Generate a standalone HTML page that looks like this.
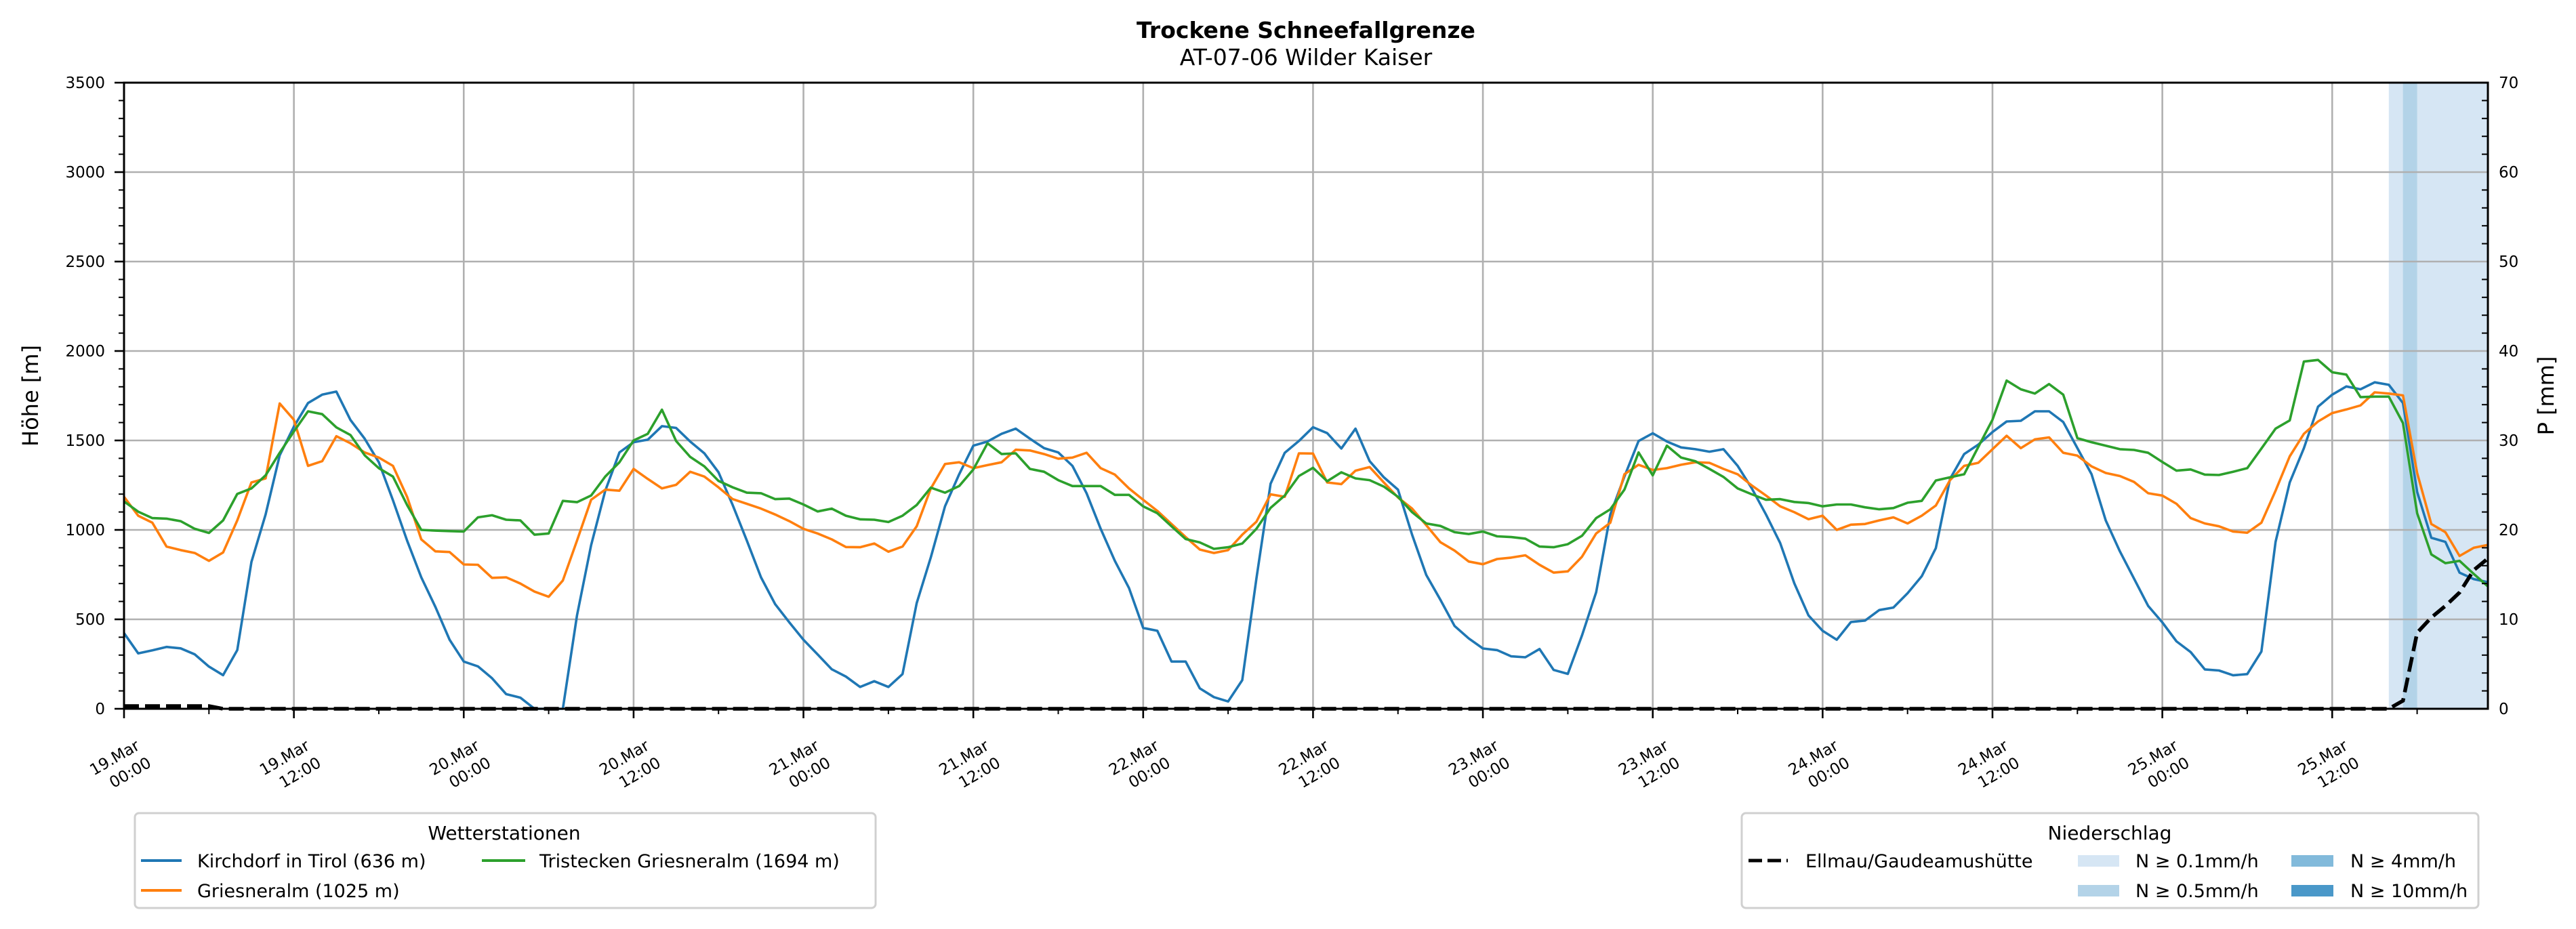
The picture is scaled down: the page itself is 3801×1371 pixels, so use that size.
<!DOCTYPE html>
<html><head><meta charset="utf-8">
<style>
html,body{margin:0;padding:0;background:#fff;}
svg{display:block;font-family:"DejaVu Sans","Liberation Sans",sans-serif;}
</style></head>
<body>
<svg id="chart" xmlns="http://www.w3.org/2000/svg" width="3801" height="1371" viewBox="0 0 3801 1371">
  <rect x="0" y="0" width="3801" height="1371" fill="#fff"/>
  <g id="bands"></g>
  <g id="grid"></g>
  <g id="series"></g>
  <g id="axes"></g>
  <text x="1927" y="56" text-anchor="middle" font-size="33" font-weight="bold">Trockene Schneefallgrenze</text>
  <text x="1927" y="96" text-anchor="middle" font-size="33">AT-07-06 Wilder Kaiser</text>
  <text transform="translate(56,584) rotate(-90)" text-anchor="middle" font-size="32">Höhe [m]</text>
  <text transform="translate(3768,584) rotate(-90)" text-anchor="middle" font-size="32">P [mm]</text>

  <g>
    <rect x="199" y="1200" width="1093" height="140" rx="6" fill="#fff" stroke="#d0d0d0" stroke-width="3"/>
    <text x="744" y="1239" text-anchor="middle" font-size="28">Wetterstationen</text>
    <line x1="208" y1="1270" x2="268" y2="1270" stroke="#1f77b4" stroke-width="4"/>
    <text x="291" y="1280" font-size="27">Kirchdorf in Tirol (636 m)</text>
    <line x1="208" y1="1314" x2="268" y2="1314" stroke="#ff7f0e" stroke-width="4"/>
    <text x="291" y="1324" font-size="27">Griesneralm (1025 m)</text>
    <line x1="711" y1="1270" x2="775" y2="1270" stroke="#2ca02c" stroke-width="4"/>
    <text x="796" y="1280" font-size="27">Tristecken Griesneralm  (1694 m)</text>
  </g>

  <g>
    <rect x="2570" y="1200" width="1087" height="140" rx="6" fill="#fff" stroke="#d0d0d0" stroke-width="3"/>
    <text x="3113" y="1239" text-anchor="middle" font-size="28">Niederschlag</text>
    <line x1="2580" y1="1270" x2="2638" y2="1270" stroke="#000" stroke-width="5" stroke-dasharray="20,8"/>
    <text x="2664" y="1280" font-size="27">Ellmau/Gaudeamushütte</text>
    <rect x="3066" y="1262" width="61" height="17" fill="#d6e6f4"/>
    <text x="3151" y="1280" font-size="27">N ≥ 0.1mm/h</text>
    <rect x="3066" y="1306" width="61" height="17" fill="#b3d3e8"/>
    <text x="3151" y="1324" font-size="27">N ≥ 0.5mm/h</text>
    <rect x="3381" y="1262" width="62" height="17" fill="#82badb"/>
    <text x="3468" y="1280" font-size="27">N ≥ 4mm/h</text>
    <rect x="3381" y="1306" width="62" height="17" fill="#4a98c9"/>
    <text x="3468" y="1324" font-size="27">N ≥ 10mm/h</text>
  </g>
</svg>
<script>
const hoursMax = 167;
const yTicks = [0,500,1000,1500,2000,2500,3000,3500];
const y2Ticks = [0,10,20,30,40,50,60,70];
const xTickHours = [0,12,24,36,48,60,72,84,96,108,120,132,144,156];
const xTickDates = ["19.Mar","19.Mar","20.Mar","20.Mar","21.Mar","21.Mar","22.Mar","22.Mar","23.Mar","23.Mar","24.Mar","24.Mar","25.Mar","25.Mar"];
const xTickTimes = ["00:00","12:00","00:00","12:00","00:00","12:00","00:00","12:00","00:00","12:00","00:00","12:00","00:00","12:00"];
const kirchdorf = [423,310,327,346,338,304,236,188,328,821,
1086,1417,1577,1709,1756,1773,1614,1510,1378,1166,
940,735,569,386,264,237,171,82,62,0,
0,0,522,914,1219,1433,1490,1504,1580,1570,
1494,1428,1322,1139,940,735,585,483,386,304,
221,180,122,154,122,194,590,847,1132,1311,
1471,1494,1537,1566,1510,1457,1433,1358,1205,1006,
827,675,452,436,264,264,114,65,41,160,
728,1258,1431,1497,1574,1541,1455,1566,1384,1294,
1225,973,748,609,463,393,337,328,293,288,
334,217,195,410,651,1086,1298,1497,1540,1494,
1461,1451,1437,1451,1358,1232,1086,927,701,522,
436,386,485,493,552,566,646,741,898,1285,
1424,1477,1547,1606,1610,1663,1663,1603,1457,1311,
1053,880,728,575,483,377,317,220,214,187,
194,320,933,1265,1457,1689,1756,1802,1786,1825,
1811,1709,1212,956,933,761,725,708];
const griesneralm = [1185,1079,1040,907,887,871,827,874,1053,1265,
1288,1707,1616,1358,1384,1524,1484,1433,1404,1358,
1185,947,880,876,807,805,732,735,700,655,
626,717,940,1168,1225,1219,1341,1285,1232,1252,
1325,1298,1238,1172,1146,1119,1086,1049,1006,980,
947,904,903,924,878,907,1020,1232,1368,1378,
1345,1362,1378,1448,1444,1424,1398,1404,1431,1345,
1309,1232,1168,1106,1033,960,890,871,887,973,
1046,1199,1185,1428,1427,1265,1256,1331,1351,1265,
1181,1119,1026,931,884,823,808,837,845,858,
805,761,768,850,980,1040,1311,1364,1335,1345,
1364,1378,1375,1341,1311,1248,1192,1132,1099,1060,
1079,1000,1029,1033,1053,1070,1036,1079,1136,1278,
1358,1375,1451,1526,1457,1506,1517,1431,1415,1355,
1318,1301,1268,1205,1192,1146,1066,1036,1020,991,
984,1040,1219,1411,1537,1606,1653,1673,1696,1769,
1762,1752,1318,1033,987,854,900,916];
const tristecken = [1159,1102,1066,1063,1049,1006,983,1053,1201,1232,
1305,1431,1550,1663,1647,1573,1530,1417,1345,1298,
1139,1000,996,993,991,1070,1082,1057,1053,973,
980,1162,1155,1192,1298,1378,1500,1537,1672,1497,
1408,1355,1274,1238,1208,1205,1172,1175,1142,1103,
1119,1079,1059,1057,1044,1079,1139,1236,1208,1245,
1338,1484,1424,1428,1341,1325,1278,1245,1245,1245,
1196,1196,1132,1093,1020,949,930,894,903,924,
1006,1123,1192,1301,1347,1272,1322,1288,1278,1242,
1185,1099,1036,1022,987,977,991,964,960,951,
907,903,920,967,1066,1115,1225,1433,1305,1471,
1404,1384,1341,1296,1232,1199,1168,1172,1156,1150,
1132,1142,1142,1126,1115,1122,1152,1162,1276,1294,
1311,1464,1616,1835,1786,1762,1815,1756,1513,1490,
1471,1451,1447,1431,1380,1331,1338,1309,1307,1325,
1345,1455,1566,1612,1941,1950,1881,1868,1742,1745,
1745,1597,1093,863,814,827,754,684];
const precipSum = [0.3,0.3,0.3,0.3,0.3,0.3,0.3,0,0,0,
0,0,0,0,0,0,0,0,0,0, 0,0,0,0,0,0,0,0,0,0,
0,0,0,0,0,0,0,0,0,0, 0,0,0,0,0,0,0,0,0,0,
0,0,0,0,0,0,0,0,0,0, 0,0,0,0,0,0,0,0,0,0,
0,0,0,0,0,0,0,0,0,0, 0,0,0,0,0,0,0,0,0,0,
0,0,0,0,0,0,0,0,0,0, 0,0,0,0,0,0,0,0,0,0,
0,0,0,0,0,0,0,0,0,0, 0,0,0,0,0,0,0,0,0,0,
0,0,0,0,0,0,0,0,0,0, 0,0,0,0,0,0,0,0,0,0,
0,0,0,0,0,0,0,0,0,0, 0,0.9,8.5,10.2,11.5,13,15.5,16.8];
const bandStart = [160,161];
const bandEnd = [167,162];
const bandColor = ["#d6e6f4","#b3d3e8"];

const L=183,R=3671,T=122,B=1046;
const NS="http://www.w3.org/2000/svg";
function xs(h){return L+h*(R-L)/hoursMax;}
function ys(v){return B-v*(B-T)/3500;}
function yp(p){return B-p*(B-T)/70;}
function mk(tag,parent){const e=document.createElementNS(NS,tag);parent.appendChild(e);return e;}
const bands=document.getElementById('bands'),grid=document.getElementById('grid'),series=document.getElementById('series'),axes=document.getElementById('axes');

for(let i=0;i<bandStart.length;i++){
  const r=mk('rect',bands);
  
  
  r.setAttribute('x',xs(bandStart[i]));r.setAttribute('y',T);
  r.setAttribute('width',xs(bandEnd[i])-xs(bandStart[i]));r.setAttribute('height',B-T);
  r.setAttribute('fill',bandColor[i]);
}
yTicks.forEach(v=>{
  const l=mk('line',grid);
  
  
  l.setAttribute('x1',L);l.setAttribute('x2',R);l.setAttribute('y1',ys(v));l.setAttribute('y2',ys(v));
  l.setAttribute('stroke','#b0b0b0');l.setAttribute('stroke-width','2.6');
  const t=mk('text',axes);
  
  
  t.setAttribute('x',155);t.setAttribute('y',ys(v)+8);t.setAttribute('text-anchor','end');t.setAttribute('font-size','23');
  t.textContent=v;
});
y2Ticks.forEach(v=>{
  const t=mk('text',axes);
  
  
  t.setAttribute('x',3687);t.setAttribute('y',yp(v)+8);t.setAttribute('font-size','23');
  t.textContent=v;
});
xTickHours.forEach((h,i)=>{
  const l=mk('line',grid);
  
  
  l.setAttribute('x1',xs(h));l.setAttribute('x2',xs(h));l.setAttribute('y1',T);l.setAttribute('y2',B);
  l.setAttribute('stroke','#b0b0b0');l.setAttribute('stroke-width','2.6');
  const cx=xs(h);
  const t1=mk('text',axes);
  
  
  t1.setAttribute('x',cx-14);t1.setAttribute('y',1126);t1.setAttribute('text-anchor','middle');t1.setAttribute('font-size','23');
  t1.setAttribute('transform','rotate(-30 '+(cx-14)+' 1118)');
  t1.textContent=xTickDates[i];
  const t2=mk('text',axes);
  
  
  t2.setAttribute('x',cx+9);t2.setAttribute('y',1148);t2.setAttribute('text-anchor','middle');t2.setAttribute('font-size','23');
  t2.setAttribute('transform','rotate(-30 '+(cx+9)+' 1140)');
  t2.textContent=xTickTimes[i];
});
function tick(x1,y1,x2,y2,w){const l=mk('line',axes);
  
  
  l.setAttribute('x1',x1);l.setAttribute('y1',y1);l.setAttribute('x2',x2);l.setAttribute('y2',y2);l.setAttribute('stroke','#000');l.setAttribute('stroke-width',w);}
for(let v=0;v<=3500;v+=100){const major=v%500===0;tick(L-(major?14:8),ys(v),L,ys(v),major?2.6:2);}
for(let p=0;p<=70;p+=2){const major=p%10===0;tick(R-(major?0:9),yp(p),R,yp(p),2);}
for(let h=0;h<=hoursMax;h+=6){const major=h%12===0;tick(xs(h),B,xs(h),B+(major?14:8),major?2.6:2);}

function drawLine(vals,color,name,scale){
  const p=mk('polyline',series);
  
  
  p.setAttribute('points',vals.map((v,i)=>xs(i).toFixed(1)+','+scale(Math.max(0,v)).toFixed(1)).join(' '));
  p.setAttribute('fill','none');p.setAttribute('stroke',color);p.setAttribute('stroke-width','3.6');p.setAttribute('stroke-linejoin','round');
  return p;
}
drawLine(kirchdorf,'#1f77b4','kirchdorf-line',ys);
drawLine(griesneralm,'#ff7f0e','griesneralm-line',ys);
drawLine(tristecken,'#2ca02c','tristecken-line',ys);
const pl=drawLine(precipSum,'#000','ellmau-precip-line',yp);
pl.setAttribute('stroke-width','5.5');pl.setAttribute('stroke-dasharray','22,9');pl.setAttribute('stroke-linejoin','miter');

const frame=mk('rect',axes);


frame.setAttribute('x',L);frame.setAttribute('y',T);frame.setAttribute('width',R-L);frame.setAttribute('height',B-T);
frame.setAttribute('fill','none');frame.setAttribute('stroke','#000');frame.setAttribute('stroke-width','3');
</script>
</body></html>
